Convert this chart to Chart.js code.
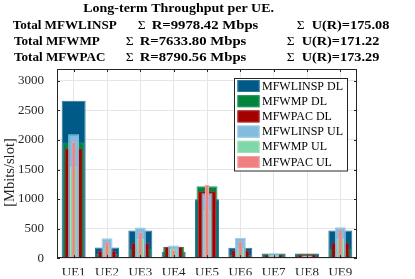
<!DOCTYPE html>
<html><head><meta charset="utf-8">
<script src="https://cdn.jsdelivr.net/npm/chart.js@4.4.0/dist/chart.umd.min.js"></script>
<style>html,body{margin:0;padding:0;background:#fff;}</style>
</head><body>
<canvas id="c" width="415" height="279"></canvas>
<script>
// ---- data ----
const categories = ['UE1','UE2','UE3','UE4','UE5','UE6','UE7','UE8','UE9'];
const linspDL = [2665, 180, 470, 111, 995, 177, 78, 78, 470];
const mpDL    = [1955,  70, 150, 188, 1216, 60, 70, 75, 150];
const pacDL   = [1860, 125, 260, 194, 1133, 133, 61, 61, 265];
const linspUL = [2095, 338, 520, 215, 1100, 343, 78, 45, 525];
const mpUL    = [1550, 170, 330, 166, 800, 170, 50, 40, 330];
const pacUL   = [1965, 277, 443, 139, 1243, 288, 40, 40, 487];
const seriesNames = ['MFWLINSP DL','MFWMP DL','MFWPAC DL','MFWLINSP UL','MFWMP UL','MFWPAC UL'];
const yTickValues = [0, 500, 1000, 1500, 2000, 2500, 3000];
const titleText = 'Long-term Throughput per UE.';
const methods = ['MFWLINSP', 'MFWMP', 'MFWPAC'];
const totalR = ['9978.42', '7633.80', '8790.56'];
const totalU = ['175.08', '171.22', '173.29'];
const yLabel = '[Mbits/slot]';

// ---- styles ----
const fills   = ['#005a88', '#00853f', '#a30000', '#82bde0', '#80d8aa', '#f08080'];
const edges   = ['#2f779c', '#2f9a60', '#b53030', '#9ccbe7', '#9be2bd', '#f4a0a0'];
const widths  = [0.72, 0.63, 0.54, 0.33, 0.22, 0.12];
const serif = '"Liberation Serif", "Times New Roman", serif';
const axisColor = '#262626';
const titleFont = 'bold 13.5px ' + serif;

const allSeries = [linspDL, mpDL, pacDL, linspUL, mpUL, pacUL];
const datasets = allSeries.map((d, i) => ({
  label: seriesNames[i],
  data: d,
  backgroundColor: fills[i],
  borderColor: edges[i],
  borderWidth: 1,
  grouped: false,
  categoryPercentage: 1,
  barPercentage: widths[i],
  order: 6 - i
}));

// horizontal scale needed so that txt spans width w
function scaleFor(ctx, txt, w) {
  ctx.font = titleFont;
  return w / ctx.measureText(txt).width;
}
function drawScaled(ctx, txt, x, y, sx) {
  ctx.save();
  ctx.font = titleFont;
  ctx.translate(x, y);
  ctx.scale(sx, 1);
  ctx.fillText(txt, 0, 0);
  ctx.restore();
}

const framePlugin = {
  id: 'frame',
  afterDraw(chart) {
    const ctx = chart.ctx;
    const a = chart.chartArea;
    const xs = chart.scales.x, ys = chart.scales.y;
    ctx.save();
    // axis box
    ctx.strokeStyle = axisColor;
    ctx.lineWidth = 1;
    ctx.strokeRect(Math.round(a.left) + 0.5, Math.round(a.top) + 0.5,
                   Math.round(a.right - a.left) - 1, Math.round(a.bottom - a.top) - 1);
    // inner tick marks
    ctx.beginPath();
    const tl = 3;
    yTickValues.forEach(v => {
      const y = Math.round(ys.getPixelForValue(v)) + 0.5;
      ctx.moveTo(a.left, y); ctx.lineTo(a.left + tl, y);
      ctx.moveTo(a.right, y); ctx.lineTo(a.right - tl, y);
    });
    categories.forEach((c, i) => {
      const x = Math.round(xs.getPixelForValue(i)) + 0.5;
      ctx.moveTo(x, a.bottom); ctx.lineTo(x, a.bottom - tl);
      ctx.moveTo(x, a.top); ctx.lineTo(x, a.top + tl);
    });
    ctx.stroke();

    // y axis label
    ctx.save();
    ctx.translate(10, 172.5);
    ctx.rotate(-Math.PI / 2);
    ctx.font = '14.5px ' + serif;
    ctx.fillStyle = axisColor;
    ctx.textAlign = 'center';
    ctx.textBaseline = 'middle';
    ctx.fillText(yLabel, 0, 0);
    ctx.restore();

    // legend
    const lx = a.right - 122.5, ly = a.top + 9.5, lw = 113, lh = 92.5;
    ctx.fillStyle = '#ffffff';
    ctx.fillRect(lx, ly, lw, lh);
    ctx.strokeStyle = axisColor;
    ctx.strokeRect(lx, ly, lw, lh);
    ctx.font = '12px ' + serif;
    ctx.textBaseline = 'middle';
    ctx.textAlign = 'left';
    seriesNames.forEach((n, i) => {
      const cy = ly + 7.5 + i * 15.2;
      ctx.fillStyle = fills[i];
      ctx.fillRect(lx + 3, cy - 6, 22, 12);
      ctx.strokeStyle = edges[i];
      ctx.strokeRect(lx + 3.5, cy - 5.5, 21, 11);
      ctx.fillStyle = '#000';
      ctx.fillText(n, lx + 27.5, cy + 0.5);
    });

    // title
    ctx.fillStyle = '#000';
    ctx.textBaseline = 'alphabetic';
    drawScaled(ctx, titleText, 83.3, 11.5, scaleFor(ctx, titleText, 190.7));
    const sT = scaleFor(ctx, 'Total ' + methods[0], 104);
    const sR = scaleFor(ctx, 'R=' + totalR[0] + ' Mbps', 106.6);
    const sU = scaleFor(ctx, 'U(R)=' + totalU[0], 77.6);
    const rows = [
      {y: 29.3, t: 12.7, s1: 137.7, r: 151.7, s2: 296.7, u: 311.7},
      {y: 45.3, t: 14,   s1: 125.7, r: 139.7, s2: 286.7, u: 301.7},
      {y: 61.3, t: 14,   s1: 125.7, r: 139.7, s2: 286.7, u: 301.7}
    ];
    rows.forEach((row, i) => {
      drawScaled(ctx, 'Total ' + methods[i], row.t, row.y, sT);
      ctx.font = '13.5px ' + serif;
      ctx.fillText('\u03A3', row.s1, row.y);
      ctx.fillText('\u03A3', row.s2, row.y);
      drawScaled(ctx, 'R=' + totalR[i] + ' Mbps', row.r, row.y, sR);
      drawScaled(ctx, 'U(R)=' + totalU[i], row.u, row.y, sU);
    });
    ctx.restore();
  }
};

new Chart(document.getElementById('c'), {
  type: 'bar',
  data: { labels: categories, datasets },
  options: {
    responsive: false,
    animation: false,
    devicePixelRatio: 1,
    layout: { padding: { top: 69, right: 58, bottom: 0, left: 0 } },
    plugins: { legend: { display: false }, tooltip: { enabled: false }, title: { display: false } },
    scales: {
      x: {
        type: 'category',
        offset: true,
        grid: { color: '#e6e6e6', offset: false, drawTicks: false },
        border: { display: false },
        ticks: { font: { family: serif, size: 13 }, color: axisColor, padding: 7, maxRotation: 0 },
        afterFit: s => { s.height = 17; }
      },
      y: {
        min: 0, max: 3200,
        grid: { color: '#e6e6e6', drawTicks: false },
        border: { display: false },
        ticks: { stepSize: 500, includeBounds: false, font: { family: serif, size: 13 }, color: axisColor, padding: 13,
                 callback: v => String(v) },
        afterBuildTicks: s => { s.ticks = yTickValues.map(v => ({ value: v })); },
        afterFit: s => { s.width = 57; }
      }
    }
  },
  plugins: [framePlugin]
});
</script>
</body></html>
